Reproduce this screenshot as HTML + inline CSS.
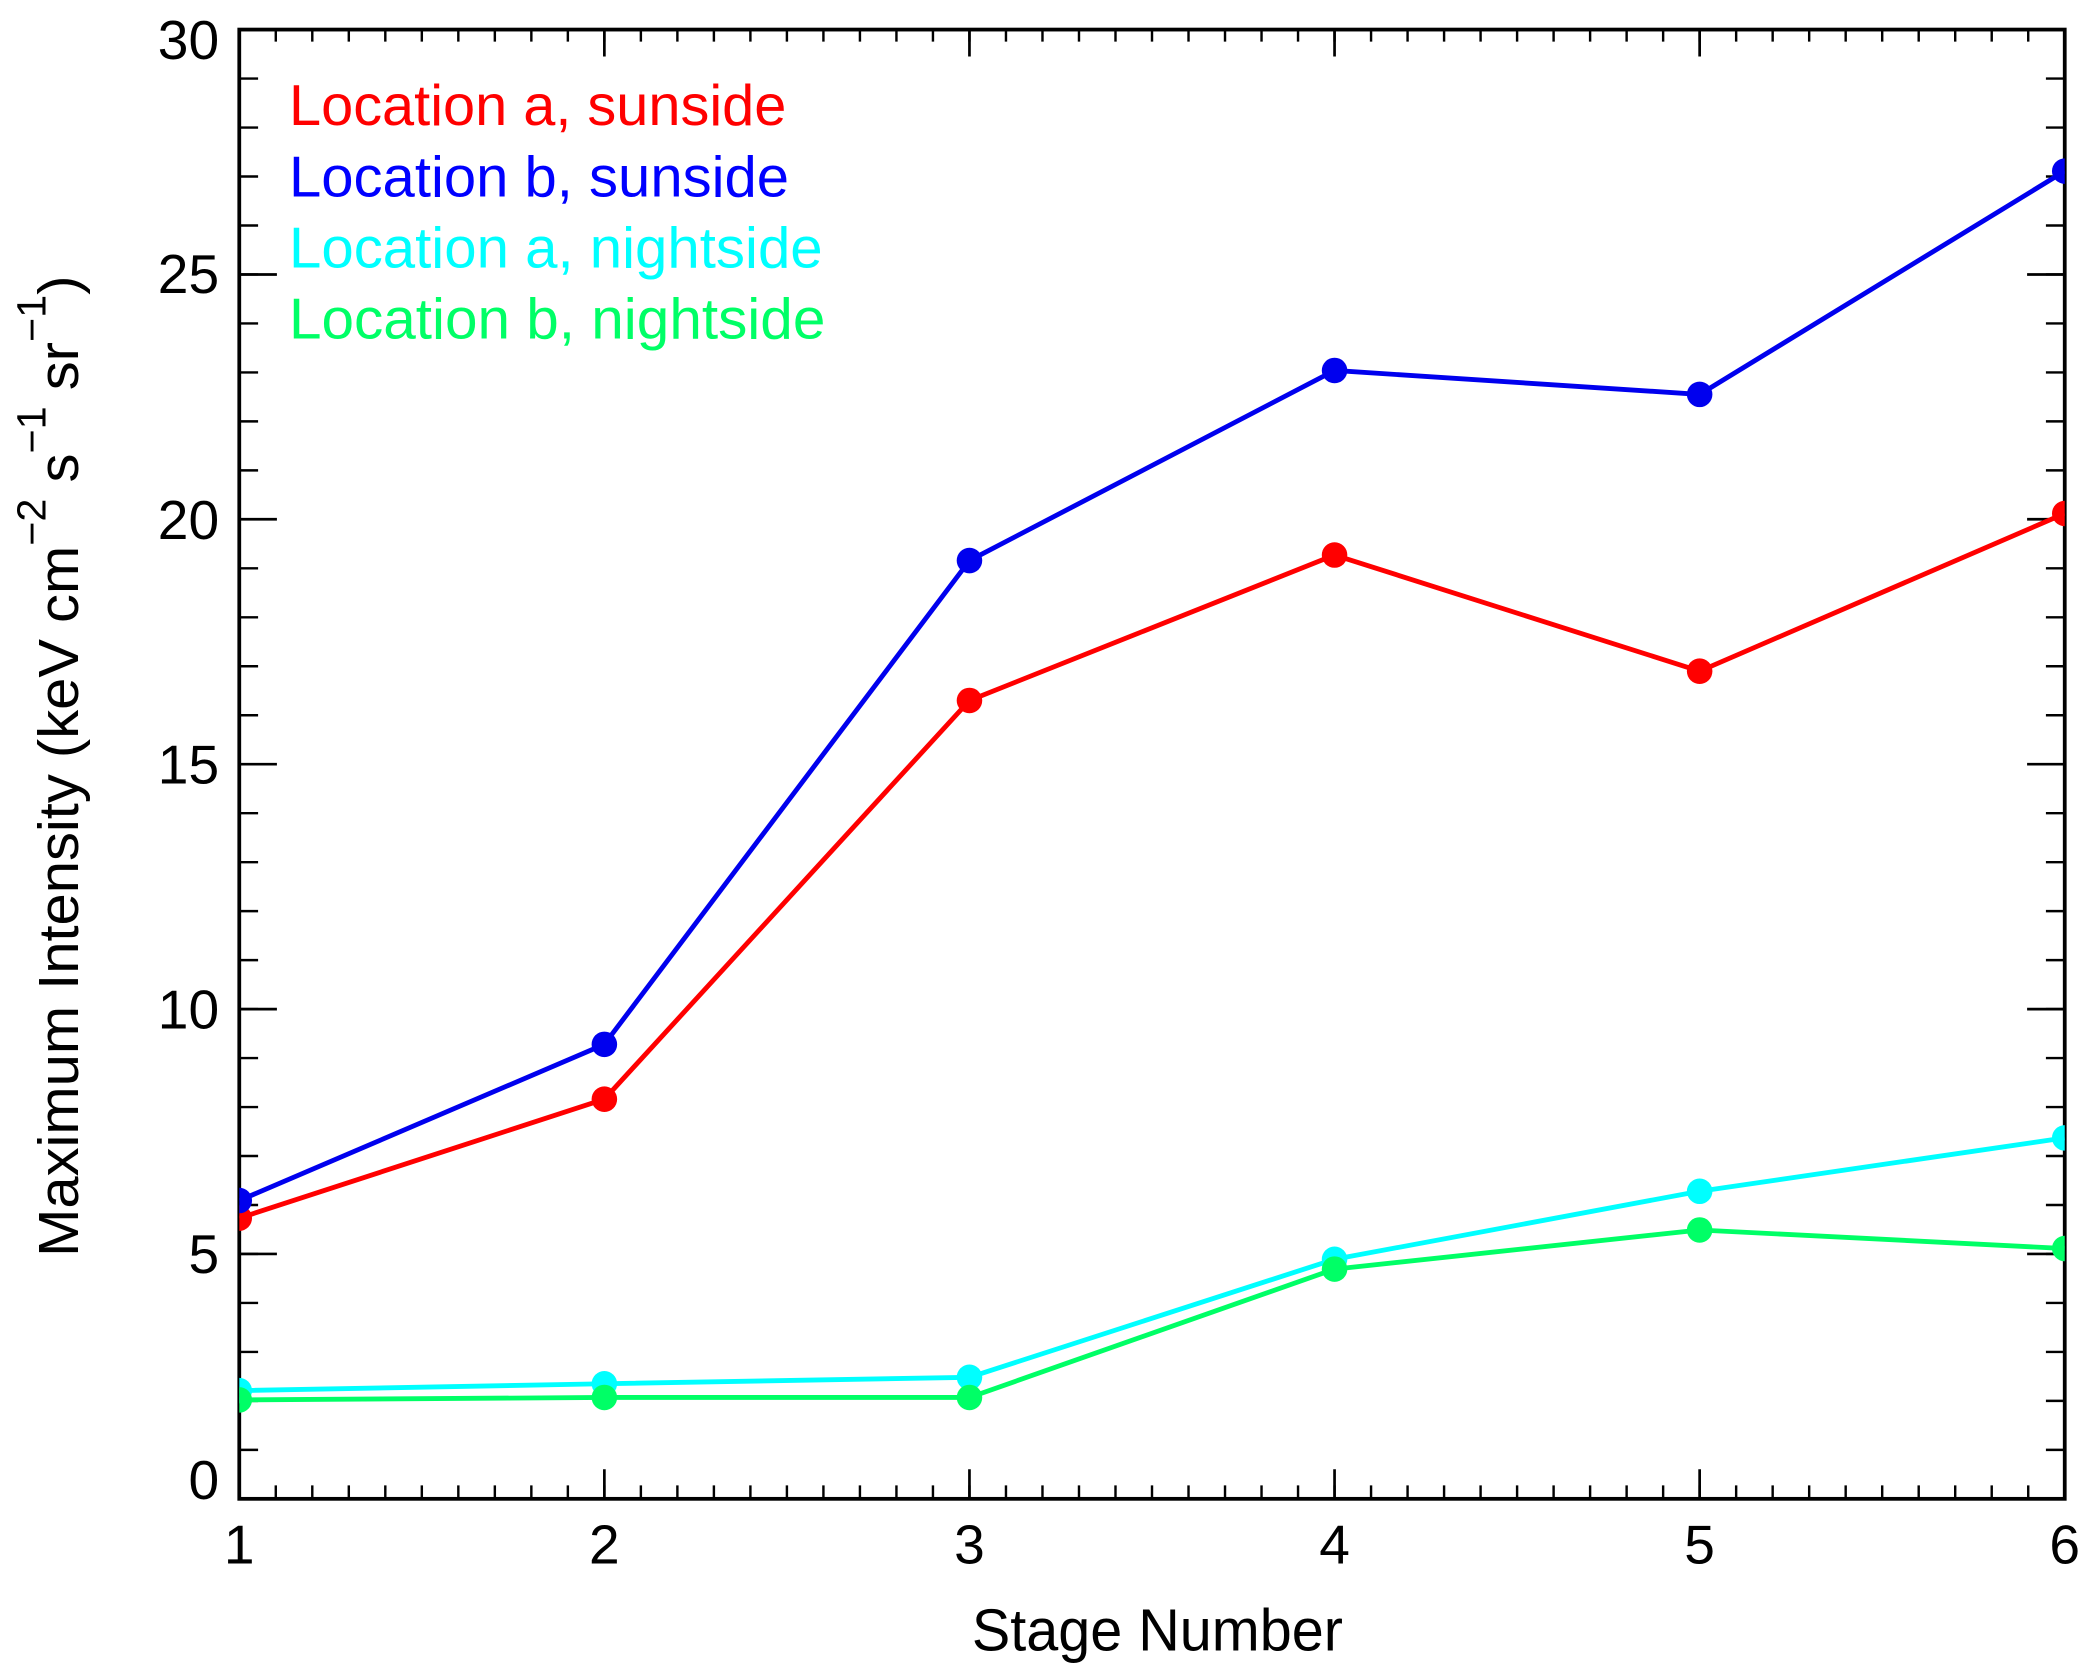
<!DOCTYPE html>
<html><head><meta charset="utf-8"><style>html,body{margin:0;padding:0;background:#fff}svg{display:block}</style></head>
<body>
<svg width="2097" height="1676" viewBox="0 0 1560 1246.8" preserveAspectRatio="none" xmlns="http://www.w3.org/2000/svg" font-family="Liberation Sans, sans-serif">
<defs><clipPath id="c"><rect x="178" y="22" width="1358" height="1093"/></clipPath></defs>
<rect width="1560" height="1246.8" fill="#fff"/>
<g stroke="#000" stroke-width="1.8" fill="none">
<path d="M178 1115m27.16 0v-10m27.16 10v-10m27.16 10v-10m27.16 10v-10m27.16 10v-10m27.16 10v-10m27.16 10v-10m27.16 10v-10m27.16 10v-10m27.16 10v-10m27.16 10v-10m27.16 10v-10m27.16 10v-10m27.16 10v-10m27.16 10v-10m27.16 10v-10m27.16 10v-10m27.16 10v-10m27.16 10v-10m27.16 10v-10m27.16 10v-10m27.16 10v-10m27.16 10v-10m27.16 10v-10m27.16 10v-10m27.16 10v-10m27.16 10v-10m27.16 10v-10m27.16 10v-10m27.16 10v-10m27.16 10v-10m27.16 10v-10m27.16 10v-10m27.16 10v-10m27.16 10v-10m27.16 10v-10m27.16 10v-10m27.16 10v-10m27.16 10v-10m27.16 10v-10m27.16 10v-10m27.16 10v-10m27.16 10v-10m27.16 10v-10m27.16 10v-10m27.16 10v-10m27.16 10v-10m27.16 10v-10m27.16 10v-10"/>
<path d="M178 22m27.16 0v9m27.16 -9v9m27.16 -9v9m27.16 -9v9m27.16 -9v9m27.16 -9v9m27.16 -9v9m27.16 -9v9m27.16 -9v9m27.16 -9v9m27.16 -9v9m27.16 -9v9m27.16 -9v9m27.16 -9v9m27.16 -9v9m27.16 -9v9m27.16 -9v9m27.16 -9v9m27.16 -9v9m27.16 -9v9m27.16 -9v9m27.16 -9v9m27.16 -9v9m27.16 -9v9m27.16 -9v9m27.16 -9v9m27.16 -9v9m27.16 -9v9m27.16 -9v9m27.16 -9v9m27.16 -9v9m27.16 -9v9m27.16 -9v9m27.16 -9v9m27.16 -9v9m27.16 -9v9m27.16 -9v9m27.16 -9v9m27.16 -9v9m27.16 -9v9m27.16 -9v9m27.16 -9v9m27.16 -9v9m27.16 -9v9m27.16 -9v9m27.16 -9v9m27.16 -9v9m27.16 -9v9m27.16 -9v9"/>
<path d="M178 1115m0 -36.433h14m-14 -36.433h14m-14 -36.433h14m-14 -36.433h14m-14 -36.433h14m-14 -36.433h14m-14 -36.433h14m-14 -36.433h14m-14 -36.433h14m-14 -36.433h14m-14 -36.433h14m-14 -36.433h14m-14 -36.433h14m-14 -36.433h14m-14 -36.433h14m-14 -36.433h14m-14 -36.433h14m-14 -36.433h14m-14 -36.433h14m-14 -36.433h14m-14 -36.433h14m-14 -36.433h14m-14 -36.433h14m-14 -36.433h14m-14 -36.433h14m-14 -36.433h14m-14 -36.433h14m-14 -36.433h14m-14 -36.433h14"/>
<path d="M1536 1115m0 -36.433h-14m14 -36.433h-14m14 -36.433h-14m14 -36.433h-14m14 -36.433h-14m14 -36.433h-14m14 -36.433h-14m14 -36.433h-14m14 -36.433h-14m14 -36.433h-14m14 -36.433h-14m14 -36.433h-14m14 -36.433h-14m14 -36.433h-14m14 -36.433h-14m14 -36.433h-14m14 -36.433h-14m14 -36.433h-14m14 -36.433h-14m14 -36.433h-14m14 -36.433h-14m14 -36.433h-14m14 -36.433h-14m14 -36.433h-14m14 -36.433h-14m14 -36.433h-14m14 -36.433h-14m14 -36.433h-14m14 -36.433h-14"/>
<path stroke-width="2" d="M449.6 1115v-22M721.2 1115v-22M992.8 1115v-22M1264.4 1115v-22
M449.6 22v20M721.2 22v20M992.8 22v20M1264.4 22v20
M178 932.8h28M178 750.7h28M178 568.5h28M178 386.3h28M178 204.2h28
M1536 932.8h-28M1536 750.7h-28M1536 568.5h-28M1536 386.3h-28M1536 204.2h-28"/>
<rect x="178" y="22" width="1358" height="1093" stroke-width="2.8"/>
</g>
<g fill="#000" font-size="41" text-anchor="end">
<text x="163" y="44">30</text>
<text x="163" y="218">25</text>
<text x="163" y="401">20</text>
<text x="163" y="583">15</text>
<text x="163" y="765">10</text>
<text x="163" y="947">5</text>
<text x="163" y="1115">0</text>
</g>
<g fill="#000" font-size="41" text-anchor="middle">
<text x="178" y="1163">1</text><text x="449.6" y="1163">2</text><text x="721.2" y="1163">3</text>
<text x="992.8" y="1163">4</text><text x="1264.4" y="1163">5</text><text x="1536" y="1163">6</text>
<text x="861" y="1228" font-size="44" textLength="276" lengthAdjust="spacingAndGlyphs">Stage Number</text>
</g>
<g transform="translate(58 935) rotate(-90)" font-size="42" fill="#000">
<text x="0" y="0" textLength="730" lengthAdjust="spacingAndGlyphs">Maximum Intensity (keV cm<tspan dy="-24" font-size="30">−2</tspan><tspan dy="24"> s</tspan><tspan dy="-24" font-size="30">−1</tspan><tspan dy="24"> sr</tspan><tspan dy="-24" font-size="30">−1</tspan><tspan dy="24">)</tspan></text>
</g>
<g font-size="43">
<text x="215" y="93" fill="#ff0000" textLength="370" lengthAdjust="spacingAndGlyphs">Location a, sunside</text>
<text x="215" y="146" fill="#0000ff" textLength="372" lengthAdjust="spacingAndGlyphs">Location b, sunside</text>
<text x="215" y="199" fill="#00ffff" textLength="397" lengthAdjust="spacingAndGlyphs">Location a, nightside</text>
<text x="215" y="252" fill="#00ff66" textLength="399" lengthAdjust="spacingAndGlyphs">Location b, nightside</text>
</g>
<g clip-path="url(#c)">
<g fill="none" stroke-width="3.6" stroke-linejoin="round">
<polyline stroke="#00ffff" points="178,1034.5 449.6,1029.4 721.2,1024.6 992.8,936.8 1264.4,886.2 1536,846.5"/>
<polyline stroke="#00ff66" points="178,1041.4 449.6,1039.6 721.2,1039.6 992.8,944.1 1264.4,915 1536,928.8"/>
<polyline stroke="#ff0000" points="178,906.2 449.6,817.7 721.2,521.1 992.8,412.9 1264.4,499.3 1536,382"/>
<polyline stroke="#0000ee" points="178,893.1 449.6,776.9 721.2,417 992.8,275.6 1264.4,293.4 1536,127.3"/>
</g>
<g fill="#00ffff"><circle cx="178" cy="1034.5" r="9.5"/><circle cx="449.6" cy="1029.4" r="9.5"/><circle cx="721.2" cy="1024.6" r="9.5"/><circle cx="992.8" cy="936.8" r="9.5"/><circle cx="1264.4" cy="886.2" r="9.5"/><circle cx="1536" cy="846.5" r="9.5"/></g>
<g fill="#00ff66"><circle cx="178" cy="1041.4" r="9.5"/><circle cx="449.6" cy="1039.6" r="9.5"/><circle cx="721.2" cy="1039.6" r="9.5"/><circle cx="992.8" cy="944.1" r="9.5"/><circle cx="1264.4" cy="915" r="9.5"/><circle cx="1536" cy="928.8" r="9.5"/></g>
<g fill="#ff0000"><circle cx="178" cy="906.2" r="9.5"/><circle cx="449.6" cy="817.7" r="9.5"/><circle cx="721.2" cy="521.1" r="9.5"/><circle cx="992.8" cy="412.9" r="9.5"/><circle cx="1264.4" cy="499.3" r="9.5"/><circle cx="1536" cy="382" r="9.5"/></g>
<g fill="#0000ee"><circle cx="178" cy="893.1" r="9.5"/><circle cx="449.6" cy="776.9" r="9.5"/><circle cx="721.2" cy="417" r="9.5"/><circle cx="992.8" cy="275.6" r="9.5"/><circle cx="1264.4" cy="293.4" r="9.5"/><circle cx="1536" cy="127.3" r="9.5"/></g>
</g>
</svg>
</body></html>
